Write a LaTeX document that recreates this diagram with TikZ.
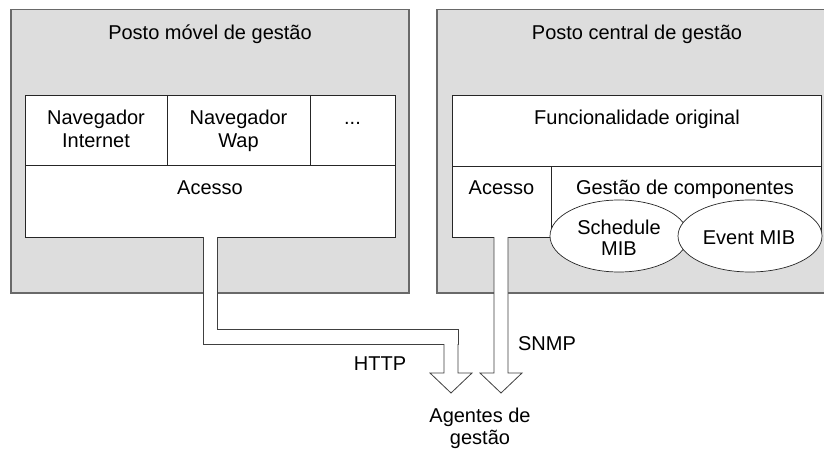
\documentclass[tikz,border=0pt]{standalone}
\usepackage{fontspec}
\setmainfont{Liberation Sans}
\usetikzlibrary{shapes.geometric}
\definecolor{boxgray}{RGB}{221,221,221}
\definecolor{edgegray}{RGB}{105,105,105}
\begin{document}
\begin{tikzpicture}[x=1pt,y=-1pt,
  outerbox/.style={rectangle, fill=boxgray, draw=edgegray, line width=1.3pt, inner sep=0pt, outer sep=0pt},
  innerbox/.style={rectangle, fill=white, draw=black!85, line width=0.7pt, inner sep=0pt, outer sep=0pt},
  mib/.style={ellipse, fill=white, draw=black!85, line width=0.7pt, inner sep=0pt, outer sep=0pt},
  lbl/.style={font=\fontsize{20}{23}\selectfont, inner sep=0pt, anchor=base},
  pipe/.style={fill=white, draw=black!75, line width=0.8pt, line join=miter},
]
\useasboundingbox (0,0) rectangle (824,449);
\clip (0,0) rectangle (824,449);
\fill[white] (0,0) rectangle (824,449);

% outer stations
\node[outerbox, minimum width=398pt, minimum height=283.5pt] (movel) at (210,151.25) {};
\node[outerbox, minimum width=413pt, minimum height=283.5pt] (central) at (643.5,151.25) {};

% left inner boxes
\node[innerbox, minimum width=142pt, minimum height=70pt] (navI) at (96,130) {};
\node[innerbox, minimum width=143pt, minimum height=70pt] (navW) at (238.5,130) {};
\node[innerbox, minimum width=85pt, minimum height=70pt] (dots) at (352.5,130) {};
\node[innerbox, minimum width=370pt, minimum height=72pt] (acL) at (210,201) {};

% right inner boxes
\node[innerbox, minimum width=369pt, minimum height=71pt] (func) at (636.5,130.5) {};
\node[innerbox, minimum width=99pt, minimum height=71pt] (acR) at (501.5,201.5) {};
\node[innerbox, minimum width=270pt, minimum height=71pt] (gest) at (686,201.5) {};
\node[mib, minimum width=138pt, minimum height=72pt] (sched) at (619,236) {};
\node[mib, minimum width=144pt, minimum height=72pt] (event) at (750,236) {};

% pipes and arrows
\coordinate (lp) at (203,237);
\coordinate (sp) at (494,237);
\draw[pipe] (lp) -- (203,344) -- (458,344) -- (458,329) -- (217,329) -- (217,237);
\draw[pipe] (444,344) -- (444,373) -- (430,373) -- (451,393) -- (472,373) -- (458,373) -- (458,344);
\draw[pipe] (sp) -- (494,373) -- (480,373) -- (501,393) -- (522,373) -- (508,373) -- (508,237);

% labels
\node[lbl] (tmovel) at (210,39.5) {Posto móvel de gestão};
\node[lbl] (tcentral) at (637,39.5) {Posto central de gestão};
\node[lbl] (tnavI1) at (96,124.5) {Navegador};
\node[lbl] (tnavI2) at (96,147.5) {Internet};
\node[lbl] (tnavW1) at (238.5,124.5) {Navegador};
\node[lbl] (tnavW2) at (238.5,147.5) {Wap};
\node[lbl] (tdots) at (352.5,124.5) {...};
\node[lbl] (tacL) at (210,194.5) {Acesso};
\node[lbl] (tfunc) at (637,124.5) {Funcionalidade original};
\node[lbl] (tacR) at (501.5,195) {Acesso};
\node[lbl] (tgest) at (685,195) {Gestão de componentes};
\node[lbl] (tsched1) at (619,234) {Schedule};
\node[lbl] (tsched2) at (619,255) {MIB};
\node[lbl] (tevent) at (749,244.5) {Event MIB};
\node[lbl] (thttp) at (380,370.5) {HTTP};
\node[lbl] (tsnmp) at (547,350.5) {SNMP};
\node[lbl] (tag1) at (480,422.5) {Agentes de};
\node[lbl] (tag2) at (480,444.3) {gestão};
\end{tikzpicture}
\end{document}
